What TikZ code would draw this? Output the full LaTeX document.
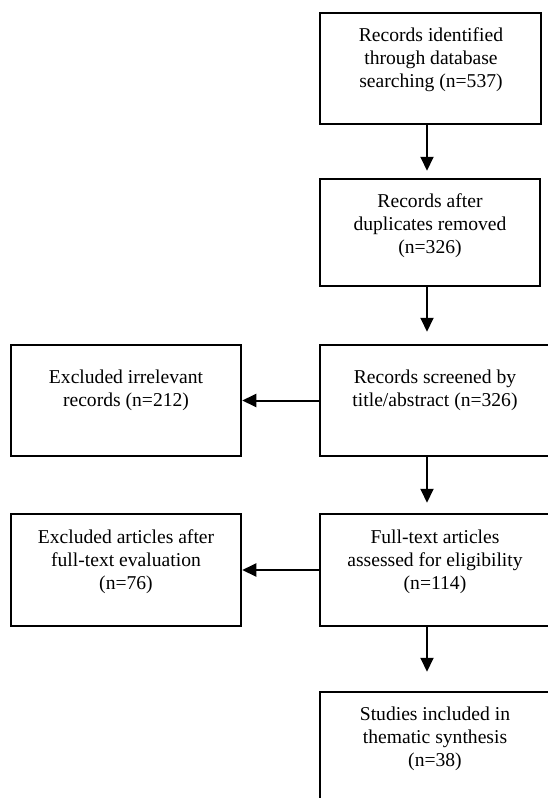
\documentclass[tikz,border=0pt]{standalone}
\usepackage{fontspec}
\setmainfont{Liberation Serif}
\usetikzlibrary{arrows.meta}
\newcommand{\firstline}{\rule{0pt}{14pt}}
\tikzset{
  box/.style={draw=black, line width=2.5pt, rectangle, inner sep=0pt, fill=none},
  txt/.style={anchor=north, align=center, inner sep=0pt, font=\fontsize{19.6pt}{23.3pt}\selectfont},
  arr/.style={draw=black, line width=2pt, -{Triangle[length=14pt,width=13pt]}}
}
\begin{document}
\begin{tikzpicture}[x=1pt, y=-1pt]
\useasboundingbox[fill=white] (0,0) rectangle (547,798);
% boxes
\node[box, minimum width=221pt, minimum height=111pt] (b1) at (430.5,68.5) {};
\node[box, minimum width=220pt, minimum height=107pt] (b2) at (430,232.5) {};
\node[box, minimum width=231pt, minimum height=111pt] (b3) at (435.5,400.5) {};
\node[box, minimum width=230pt, minimum height=111pt] (l3) at (126,400.5) {};
\node[box, minimum width=231pt, minimum height=112pt] (b4) at (435.5,570) {};
\node[box, minimum width=230pt, minimum height=112pt] (l4) at (126,570) {};
\node[box, minimum width=231pt, minimum height=128pt] (b5) at (435.5,756) {};
% texts
\node[txt] (t1) at (431,27) {\firstline Records identified\\through database\\searching (n=537)};
\node[txt] (t2) at (430,193) {\firstline Records after\\duplicates removed\\(n=326)};
\node[txt] (t3) at (435,369) {\firstline Records screened by\\title/abstract (n=326)};
\node[txt] (tl3) at (126,369) {\firstline Excluded irrelevant\\records (n=212)};
\node[txt] (t4) at (435,529) {\firstline Full-text articles\\assessed for eligibility\\(n=114)};
\node[txt] (tl4) at (126,529) {\firstline Excluded articles after\\full-text evaluation\\(n=76)};
\node[txt] (t5) at (435,706) {\firstline Studies included in\\thematic synthesis\\(n=38)};
% arrow axis
\coordinate (ax) at (427,0);
% connectors
\draw[arr, shorten >=7pt] (b1.south -| ax) -- (b2.north -| ax);
\draw[arr, shorten >=12pt] (b2.south -| ax) -- (b3.north -| ax);
\draw[arr, shorten >=10pt] (b3.south -| ax) -- (b4.north -| ax);
\draw[arr, shorten >=19pt] (b4.south -| ax) -- (b5.north -| ax);
\draw[arr] (b3.west) -- (l3.east);
\draw[arr] (b4.west) -- (l4.east);
\end{tikzpicture}
\end{document}
